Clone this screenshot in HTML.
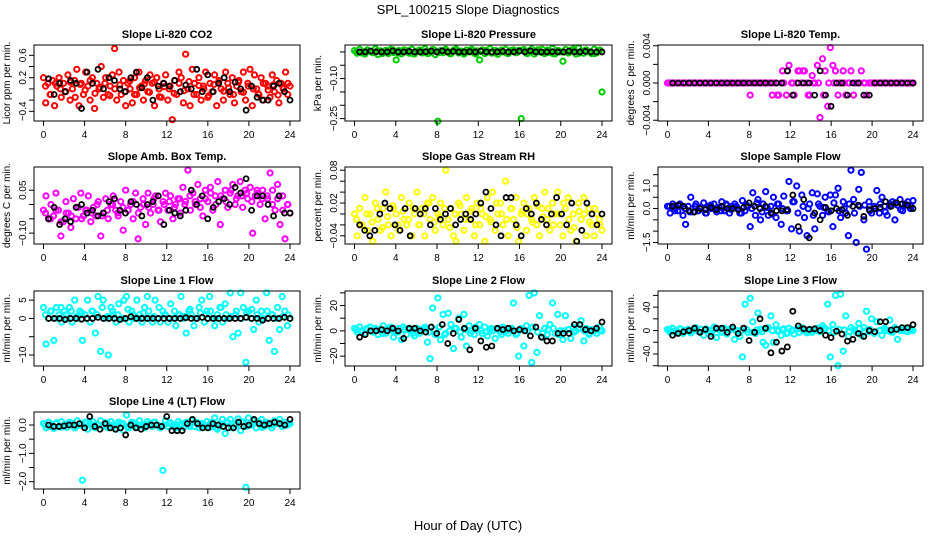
<!DOCTYPE html>
<html><head><meta charset="utf-8"><style>
body{margin:0;background:#fff}
svg{display:block;font-family:"Liberation Sans",sans-serif}
</style></head><body>
<svg id="c" width="936" height="540" viewBox="0 0 936 540">
<text x="468" y="14" text-anchor="middle" font-size="13">SPL_100215  Slope Diagnostics</text>
<text x="468" y="530" text-anchor="middle" font-size="13">Hour of Day (UTC)</text>
</svg>
<script>
// ---- data (hour of day spread evenly across each series) ----
const xTicks=[0,4,8,12,16,20,24];
const co2Vals=[0.2,-0.25,0.1,-0.1,0.15,-0.3,0.05,0.2,-0.15,0.1,-0.05,0.25,-0.2,0.0,0.15,0.35,-0.3,0.1,-0.1,0.3,0.05,-0.2,0.2,-0.35,0.1,0.0,0.4,-0.15,0.2,-0.1,0.05,0.25,0.72,-0.2,0.3,-0.1,0.15,-0.3,0.1,0.0,-0.25,0.2,-0.1,0.3,0.05,-0.2,0.15,-0.05,0.25,0.1,-0.3,0.2,0.0,-0.15,0.1,0.25,-0.2,0.05,-0.55,0.15,-0.1,0.3,0.2,-0.25,0.62,0.0,-0.3,0.35,0.1,-0.1,0.2,-0.2,0.05,0.3,-0.15,0.1,-0.05,0.25,-0.3,0.15,0.0,-0.2,0.3,0.1,-0.1,0.2,-0.25,0.05,0.15,-0.05,0.3,-0.2,0.1,0.35,-0.3,0.25,0.0,-0.1,0.2,-0.2,0.1,0.05,-0.15,0.25,-0.05,0.15,-0.25,0.1,0.0,0.3,-0.1,0.05];
const co2Core=[0.05,-0.1,0.1,0.0,-0.05,0.12,-0.15,0.08,-0.02,0.15,-0.08,0.03,0.1,-0.12,0.0,0.07,-0.05,0.14,-0.1,0.02,0.09,-0.06,0.12,-0.14,0.04,0.0,-0.08,0.1,-0.03,0.13,-0.1,0.06,0.0,-0.12,0.08,0.11,-0.04,0.02,-0.1,0.12,-0.06,0.05,0.0,-0.09,0.1,-0.02,0.07,-0.11,0.03,0.1];
const co2Black=[0.18,-0.1,0.1,-0.05,0.15,0.1,-0.35,0.3,0.1,0.35,0.0,0.2,0.15,0.0,-0.05,0.2,0.3,0.02,0.2,-0.2,0.05,0.1,0.05,0.15,-0.05,0.07,0.0,0.35,-0.05,0.25,-0.05,0.1,0.2,-0.05,0.12,0.0,-0.38,0.05,-0.15,-0.2,-0.2,0.05,0.1,-0.05,-0.2];
const presVals=[0.005,-0.005,0.01,0.0,-0.008,0.008,0.002,-0.003,0.012,-0.01,0.004,0.0,0.006,-0.006,0.01,-0.002,-0.03,0.005,-0.007,0.008,0.0,-0.005,0.01,-0.008,0.003,0.007,-0.004,0.012,-0.006,0.002,0.009,-0.01,-0.26,0.005,-0.003,0.01,0.0,-0.007,0.006,0.011,-0.004,0.003,-0.008,0.007,0.0,0.01,-0.005,0.004,-0.03,0.008,-0.006,0.002,0.012,-0.004,0.006,-0.009,0.003,0.0,0.01,-0.006,0.005,0.008,-0.003,0.006,-0.25,0.009,-0.005,0.003,0.011,-0.008,0.004,0.0,0.01,-0.006,0.007,-0.002,0.013,-0.007,0.005,0.0,-0.035,0.009,-0.004,0.006,0.011,-0.008,0.015,0.003,-0.005,0.008,0.0,-0.006,0.01,-0.003,0.005,-0.15];
const presCore=[0.0,-0.004,0.006,-0.002,0.004,-0.006,0.002,0.008,-0.004,0.0,0.005,-0.007,0.003,0.0,-0.005,0.007,-0.002,0.004,-0.006,0.009,0.0,-0.003,0.006,-0.008,0.002,0.005,-0.004,0.0,0.007,-0.005,0.003,-0.002,0.006,-0.006,0.001,0.008,-0.004,0.002,-0.007,0.005,0.0,-0.003,0.006,-0.005,0.004,0.0,-0.006,0.007];
const presBlack=[0.0,0.0,0.003,0.0,0.0,0.0,0.004,0.0,0.0,0.002,0.0,0.0,0.001,0.003,0.0,0.004,0.0,0.002,0.0,0.0,0.001,0.0,0.003,0.0,0.0,0.0,0.002,0.0,0.0,0.003,0.0,0.004,0.0,0.0,0.0,0.001,0.0,0.0,0.003,0.0,0.0,0.002,0.0,0.0,0.0];
const tempVals=[0,0,0,0,0,0,0,0,0,0,0,0,0,0,0,0,0,0,0,0,0,0,0,0,0,0,0,0,0,0,0,0,-0.0013,0,0,0,0,0,0,0,0,0,0,-0.0013,0,0,-0.0013,0.0019,0,-0.0013,0,0.0013,0,0.0013,0,-0.0013,0.0008,0,0.0019,-0.0037,0.0026,0.0013,-0.0025,0.0038,0.0019,0.0013,-0.0013,0,0.0013,-0.0013,0,0.0013,-0.0013,0,0,0.0013,0,-0.0013,0,0,0,0,0,0,0,0,0,0,0,0,0,0,0,0,0,0];
const tempCore=[0,0,0,0,0,0,0,0,0,0,0,0,0,0,0,0,0,0,0,0,-0.0013,-0.0013,0.0013,0.0013,0,0.0013,0.0013,-0.0013,0,0,-0.0013,0,0,0,0,0,0,0,0,0,0,0,0,0,0,0,0,0];
const tempBlack=[0,0,0,0,0,0,0,0,0,0,0,0,0,0,0,0,0,0,0,0,0,0.0013,-0.0013,0,0,0,-0.0013,0.0013,-0.0013,-0.0025,0,0,-0.0013,0,0,-0.0013,-0.0013,0,0,0,0,0,0,0,0];
const ambVals=[-0.02,0.03,-0.05,0.0,-0.04,0.04,-0.02,-0.11,-0.06,0.01,-0.03,-0.08,0.02,-0.05,-0.01,0.04,-0.04,-0.02,0.03,-0.06,-0.01,-0.04,0.01,-0.11,-0.03,0.02,-0.05,0.0,0.03,-0.02,-0.04,0.01,-0.09,0.05,-0.02,0.0,-0.05,0.04,-0.12,-0.01,0.02,-0.07,0.04,-0.03,0.0,0.03,-0.02,-0.06,0.01,0.04,-0.02,0.03,-0.05,0.0,0.02,-0.03,0.06,0.01,0.12,-0.02,0.04,0.0,0.07,0.02,-0.04,0.05,0.01,0.06,-0.02,0.03,0.08,-0.07,0.02,0.05,-0.01,0.04,0.07,0.0,0.03,0.08,-0.01,0.05,0.02,0.06,-0.1,0.03,0.04,0.0,0.05,-0.05,0.02,0.11,0.05,-0.02,0.07,-0.07,0.03,-0.12,0.0,-0.03];
const ambCore=[-0.03,-0.05,-0.02,-0.06,-0.03,-0.04,-0.01,-0.05,-0.02,-0.03,0.0,-0.04,-0.02,0.0,-0.03,-0.01,-0.02,0.01,-0.03,0.0,-0.01,0.02,-0.02,0.0,0.01,-0.01,0.02,0.0,0.03,0.01,-0.01,0.02,0.04,0.0,0.03,0.01,0.05,0.02,0.03,0.04,0.01,0.05,0.02,0.03,0.0,0.02,-0.02,0.0];
const ambBlack=[-0.05,-0.01,-0.07,-0.05,-0.06,-0.01,0.0,-0.03,-0.02,-0.04,-0.03,0.01,0.02,-0.02,-0.03,0.01,0.0,-0.04,0.0,0.01,0.03,-0.07,-0.02,-0.03,-0.04,-0.02,0.05,0.0,0.03,-0.05,-0.01,0.01,0.02,0.0,0.06,0.04,0.09,-0.02,0.03,0.03,0.0,-0.04,0.03,-0.03,-0.03];
const rhVals=[0.0,-0.04,0.01,-0.02,0.03,-0.03,0.0,-0.05,0.02,-0.01,-0.03,0.01,0.04,-0.02,-0.04,0.01,0.0,-0.03,0.03,-0.01,-0.02,0.02,-0.04,0.0,0.04,-0.02,0.01,-0.04,0.02,-0.01,0.03,-0.03,0.0,0.02,-0.02,0.08,-0.01,0.01,-0.04,-0.05,0.02,0.0,-0.03,0.03,-0.01,0.01,-0.04,0.02,-0.02,0.0,-0.05,0.03,-0.01,0.04,-0.03,0.0,0.02,-0.02,0.06,-0.04,0.01,-0.01,0.03,-0.05,0.0,0.02,-0.03,0.01,-0.01,0.03,-0.02,-0.04,0.01,0.04,-0.01,-0.03,0.02,0.0,0.04,-0.02,-0.04,0.01,0.03,-0.03,0.0,-0.05,0.02,-0.01,0.03,-0.04,0.01,-0.02,-0.04,0.0,-0.01,-0.03];
const rhCore=[-0.01,-0.02,0.0,-0.015,0.01,-0.025,-0.005,0.015,-0.02,0.005,-0.01,0.01,-0.02,0.0,0.02,-0.015,-0.005,0.01,-0.025,0.0,0.015,-0.01,0.005,-0.02,0.01,-0.005,-0.015,0.02,0.0,-0.01,0.01,-0.025,0.005,0.0,-0.015,0.015,-0.005,0.01,-0.02,0.0,0.02,-0.01,-0.025,0.005,0.0,-0.015,0.01,-0.02];
const rhBlack=[-0.02,-0.03,-0.04,-0.03,0.0,0.02,0.01,-0.02,-0.03,0.01,-0.04,0.01,0.0,0.01,-0.02,0.01,-0.01,0.0,0.01,-0.02,-0.01,0.0,-0.01,0.0,0.02,0.04,0.01,-0.02,-0.04,0.03,0.03,-0.02,-0.04,0.01,0.0,0.02,-0.01,-0.02,0.0,0.03,0.0,-0.02,0.02,-0.05,-0.03,0.02,0.0,-0.02,0.0];
const flowVals=[0.1,-0.2,0.2,0.0,-0.1,0.15,-0.3,-0.7,0.1,0.5,-0.15,0.2,-0.1,0.05,0.25,-0.2,0.1,0.0,0.2,-0.15,0.05,0.3,-0.1,0.15,-0.2,0.1,0.2,0.0,-0.2,0.35,-0.1,0.1,-0.8,0.7,-0.3,0.4,-0.5,0.2,0.75,-0.3,0.1,0.5,-0.4,0.2,-0.7,0.55,-0.1,1.2,-0.9,0.3,1.0,-1.0,0.6,-0.4,-1.2,0.2,0.7,-0.9,0.65,0.1,-0.3,0.5,-0.1,0.6,-0.8,0.6,0.9,-0.4,0.3,-0.2,-1.2,1.7,0.4,-1.5,0.85,1.6,-0.5,-1.8,0.3,-0.2,0.1,0.8,-0.2,0.5,0.1,-0.3,0.2,0.3,-0.5,0.15,0.4,-0.1,0.2,0.3,0.0,0.35];
const flowCore=[0.1,-0.1,0.2,0.0,-0.15,0.1,0.05,-0.2,0.15,0.0,-0.1,0.2,-0.05,0.1,-0.2,0.15,0.0,0.25,-0.15,0.05,-0.25,0.2,0.0,-0.1,0.3,-0.2,0.1,0.0,-0.3,0.2,0.05,-0.15,0.25,-0.1,0.0,0.2,-0.2,0.1,0.15,-0.1,0.0,0.2,-0.15,0.1,0.25,-0.05,0.15,0.1];
const flowBlack=[0.1,0.15,0.1,-0.1,-0.15,0.0,-0.05,0.05,-0.05,0.1,0.0,0.0,-0.05,0.05,0.25,0.1,0.0,0.1,-0.2,-0.1,-0.1,-0.05,0.6,-0.8,0.4,-1.3,-0.2,-0.5,0.05,-0.1,0.0,-0.05,-0.3,0.1,0.15,-0.35,-0.05,0.0,0.05,0.3,0.1,0.25,0.2,0.15,0.0];
const l1Vals=[3,-7,0,2,-6,3,1,-1,2,0,3,-1,5,0,2,-6,1,5,-1,2,-4,6,-9,5,0,-10,3,1,-1,4,0,5,6,-1,2,0,5,1,-1,3,6,0,-1,5,0,-1,2,1,-1,4,0,-2,1,6,0,-4,2,1,-2,0,3,5,-1,2,6,0,-2,1,3,-1,4,0,7,-5,1,-4,7,3,-12,2,0,-3,5,-1,2,0,7,-6,1,-9,0,-3,6,2,-2,0];
const l1Core=[1,2,0,3,1,2,0.5,1.5,0,2,1,3,0.5,2,1,0,2.5,1,0,1.5,2,0.5,3,1,0,2,1,0.5,2.5,0,1.5,1,2,0,3,1,0.5,2,0,1.5,2.5,1,0,2,1,3,0.5,1];
const l1Black=[0,0,0,-0.3,0,0,-0.2,0,0,0.3,0,0,0,-0.3,0,0.5,0,0,0,0,0,0,0,0,0,0.2,0,0,0.3,0,0,0,0,0,0,0,0.3,0,0,-0.5,0,0,0,0.3,0];
const l2Vals=[2,-1,3,0,-2,1,3,-1,2,-3,0,4,-2,1,3,-5,0,2,-7,1,-3,2,0,-4,2,-2,1,3,-9,-22,18,-3,26,-7,13,-2,14,5,-14,2,10,-5,13,-12,4,0,-3,2,5,-2,3,-4,1,0,-6,2,-1,3,0,-2,1,22,-3,-20,2,-12,4,28,-25,30,-17,12,-5,2,-3,5,22,-2,13,0,-7,12,1,-6,3,0,2,8,-8,2,-3,1,0,-2,3,0];
const l2Core=[1,-1,2,0,1,-2,2,0,-1,3,1,-2,0,2,-1,1,3,-3,0,2,-1,1,-2,3,0,-1,2,1,-3,0,2,-2,1,0,3,-1,-2,1,2,-3,0,1,-1,2,0,-2,1,0];
const l2Black=[-5,-3,0,0,1,0,2,0,-6,2,2,0,-1,3,-2,5,-10,-2,9,2,-15,2,-8,-13,-12,2,1,2,0,1,0,-4,3,-5,-8,-8,-2,-2,-2,5,5,1,0,2,7];
const l3Vals=[2,-3,4,0,-2,3,-5,1,2,-4,0,5,-2,2,-8,3,0,-5,6,-12,2,-3,4,-6,1,3,-15,0,-10,-45,45,-3,55,15,-5,30,2,-20,-25,5,25,-20,10,0,-8,3,-5,4,0,-6,2,-3,5,0,-4,2,-3,0,4,-2,8,3,45,-45,10,60,-60,62,-35,25,-10,5,2,-3,12,-8,5,33,-2,20,-5,15,0,-8,4,0,18,-3,5,-15,2,0,4,-2,3,0];
const l3Core=[1,-2,3,0,-1,2,-3,1,0,3,-2,1,4,-1,0,2,-3,1,-2,3,0,-1,2,-4,1,3,0,-2,1,-1,4,0,-3,2,1,-2,0,3,-1,2,-3,0,1,-2,3,0,-1,2];
const l3Black=[-8,-5,-2,0,4,-3,2,-10,4,4,-3,6,-5,4,-17,-3,20,4,-38,-20,-35,-28,33,8,3,2,3,0,-8,-12,-1,-6,-18,-15,-5,-10,0,-2,15,15,1,2,5,5,10];
const l4Vals=[0.05,-0.1,0.1,0.0,-0.12,0.08,-0.05,0.12,0.0,-0.08,0.1,0.05,-0.1,0.15,0.0,-1.95,0.1,-0.15,0.05,0.12,-0.1,0.0,0.15,-0.05,0.08,-0.1,0.12,0.0,-0.15,0.1,0.05,-0.2,0.35,-0.1,0.1,0.05,-0.08,0.15,0.0,-0.1,0.12,0.05,-0.05,0.1,0.0,-0.1,-1.6,0.15,-0.05,0.08,0.0,-0.1,0.12,0.05,-0.08,0.1,0.0,0.15,-0.05,0.1,-0.1,0.05,0.0,0.12,-0.08,0.1,0.25,-0.15,0.05,0.2,-0.3,0.1,0.2,-0.1,0.05,0.22,-0.2,0.1,-2.2,0.25,0.0,0.15,-0.1,0.1,0.2,-0.05,0.1,0.0,-0.1,0.15,0.05,0.2,-0.05,0.1,0.0,0.05];
const l4Core=[0.0,-0.05,0.05,-0.08,0.02,0.06,-0.04,0.0,0.08,-0.06,0.03,-0.02,0.07,-0.08,0.0,0.05,-0.05,0.08,0.0,-0.06,0.04,0.1,-0.03,0.0,0.06,-0.08,0.02,0.05,-0.05,0.09,0.0,-0.04,0.07,-0.1,0.03,0.1,-0.06,0.0,0.12,-0.05,0.05,0.1,-0.08,0.04,0.0,0.08,-0.04,0.05];
const l4Black=[0.0,-0.05,-0.05,-0.03,0.0,0.0,0.05,-0.1,0.3,-0.05,-0.15,0.05,-0.1,-0.15,-0.1,-0.35,0.0,-0.1,-0.15,-0.05,0.0,0.0,-0.05,0.3,-0.2,-0.2,-0.2,0.05,0.2,0.05,-0.1,-0.1,0.05,0.0,-0.05,-0.1,-0.1,0.1,-0.05,0.0,0.2,0.05,0.0,0.05,0.1,0.05,0.0,0.2];

const panels=[
 {name:'co2',title:'Slope Li-820 CO2',ylab:'Licor ppm per min.',col:0,row:0,ymin:-0.573,ymax:0.784,ticks:[-0.4,-0.2,0,0.2,0.4,0.6],labels:[-0.4,0.2,0.6],fmt:1,color:'#ff0000',vals:co2Vals,core:co2Core,blk:co2Black},
 {name:'pressure',title:'Slope Li-820 Pressure',ylab:'kPa per min.',col:1,row:0,ymin:-0.259,ymax:0.026,ticks:[-0.25,-0.2,-0.15,-0.1,-0.05,0],labels:[-0.25,-0.1],fmt:2,color:'#00cc00',vals:presVals,core:presCore,blk:presBlack},
 {name:'li820-temp',title:'Slope Li-820 Temp.',ylab:'degrees C per min.',col:2,row:0,ymin:-0.00408,ymax:0.00408,ticks:[-0.004,-0.002,0,0.002,0.004],labels:[-0.004,0,0.004],fmt:3,color:'#ff00ff',vals:tempVals,core:tempCore,blk:tempBlack},
 {name:'amb-box-temp',title:'Slope Amb. Box Temp.',ylab:'degrees C per min.',col:0,row:1,ymin:-0.138,ymax:0.131,ticks:[-0.1,-0.05,0,0.05],labels:[-0.1,0.05],fmt:2,color:'#ff00ff',vals:ambVals,core:ambCore,blk:ambBlack},
 {name:'gas-stream-rh',title:'Slope Gas Stream RH',ylab:'percent per min.',col:1,row:1,ymin:-0.055,ymax:0.086,ticks:[-0.04,-0.02,0,0.02,0.04,0.06,0.08],labels:[-0.04,0.02,0.08],fmt:2,color:'#ffff00',vals:rhVals,core:rhCore,blk:rhBlack},
 {name:'sample-flow',title:'Slope Sample Flow',ylab:'ml/min per min.',col:2,row:1,ymin:-1.57,ymax:1.84,ticks:[-1.5,-1,-0.5,0,0.5,1,1.5],labels:[-1.5,0,1],fmt:1,color:'#0000ff',vals:flowVals,core:flowCore,blk:flowBlack},
 {name:'line1-flow',title:'Slope Line 1 Flow',ylab:'ml/min per min.',col:0,row:2,ymin:-13.0,ymax:7.5,ticks:[-10,-5,0,5],labels:[-10,0,5],fmt:0,color:'#00ffff',vals:l1Vals,core:l1Core,blk:l1Black},
 {name:'line2-flow',title:'Slope Line 2 Flow',ylab:'ml/min per min.',col:1,row:2,ymin:-27.8,ymax:31.5,ticks:[-20,-10,0,10,20,30],labels:[-20,0,20],fmt:0,color:'#00ffff',vals:l2Vals,core:l2Core,blk:l2Black},
 {name:'line3-flow',title:'Slope Line 3 Flow',ylab:'ml/min per min.',col:2,row:2,ymin:-60.5,ymax:67.5,ticks:[-60,-40,-20,0,20,40,60],labels:[-40,0,40],fmt:0,color:'#00ffff',vals:l3Vals,core:l3Core,blk:l3Black},
 {name:'line4-flow',title:'Slope Line 4 (LT) Flow',ylab:'ml/min per min.',col:0,row:3,ymin:-2.26,ymax:0.46,ticks:[-2,-1.5,-1,-0.5,0],labels:[-2,-1,0],fmt:1,color:'#00ffff',vals:l4Vals,core:l4Core,blk:l4Black}
];
const colL=[34,345,658], colR=[300,612,923];
const rowT=[45,167,291,412], rowB=[121,244,366,489];
const NS='http://www.w3.org/2000/svg';
const svg=document.getElementById('c');
function mk(tag,attrs,parent){const e=document.createElementNS(NS,tag);for(const k in attrs)e.setAttribute(k,attrs[k]);parent.appendChild(e);return e;}
panels.forEach(p=>{
 const L=colL[p.col],R=colR[p.col],T=rowT[p.row],B=rowB[p.row];
 const x0=L+9.5,x1=R-10;
 const xs=h=>x0+(x1-x0)*h/24;
 const ys=v=>B-(v-p.ymin)/(p.ymax-p.ymin)*(B-T);
 const g=mk('g',{},svg);
 
 
 const t=mk('text',{x:(L+R)/2,y:T-7,'text-anchor':'middle','font-size':11,'font-weight':'bold'},g);t.textContent=p.title;
 
 
 const yl=mk('text',{transform:`translate(${L-24},${(T+B)/2}) rotate(-90)`,'text-anchor':'middle','font-size':10},g);yl.textContent=p.ylab;
 
 
 const n=p.vals.length;
 p.vals.forEach((v,i)=>{
  const c=mk('circle',{cx:xs(i*24/(n-1)),cy:ys(v),r:2.6,fill:'none',stroke:p.color,'stroke-width':2},g);
  
  
 });
 const k=p.core.length;
 p.core.forEach((v,i)=>{
  const c=mk('circle',{cx:xs(0.2+i*23.6/(k-1)),cy:ys(v),r:2.6,fill:'none',stroke:p.color,'stroke-width':2},g);
  
  
 });
 const m=p.blk.length;
 p.blk.forEach((v,i)=>{
  const c=mk('circle',{cx:xs(0.5+i*23.5/(m-1)),cy:ys(v),r:2.5,fill:'none',stroke:'#000','stroke-width':1.8},g);
  
  
 });
 const box=mk('rect',{x:L,y:T,width:R-L,height:B-T,fill:'none',stroke:'#000','stroke-width':1},g);
 
 
 xTicks.forEach(h=>{
  mk('line',{x1:xs(h),x2:xs(h),y1:B,y2:B+5,stroke:'#000'},g);
  const tx=mk('text',{x:xs(h),y:B+17,'text-anchor':'middle','font-size':10},g);tx.textContent=h;
  
  
 });
 p.ticks.forEach(v=>{mk('line',{x1:L-5,x2:L,y1:ys(v),y2:ys(v),stroke:'#000'},g);});
 p.labels.forEach(v=>{
  const s=v.toFixed(p.fmt).replace('-','\u2212');
  const tx=mk('text',{transform:`translate(${L-8},${ys(v)}) rotate(-90)`,'text-anchor':'middle','font-size':10},g);tx.textContent=s;
  
  
 });
});
</script>
</body></html>
